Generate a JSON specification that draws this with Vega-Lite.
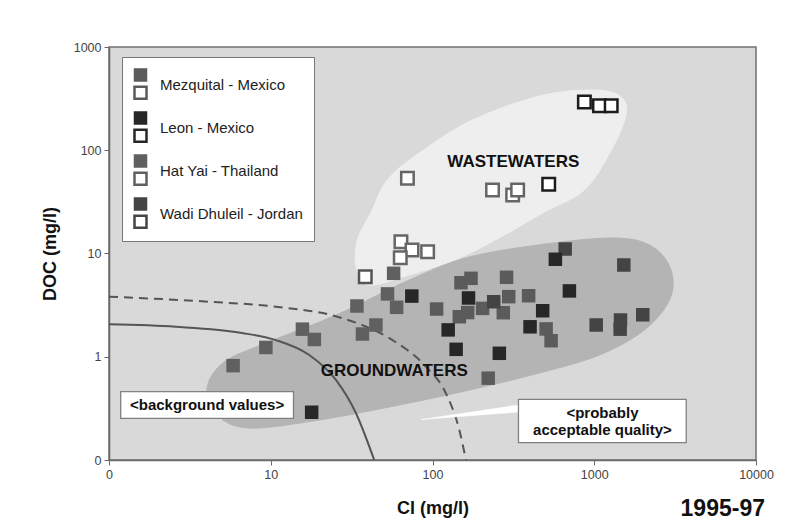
{
  "$schema": "https://vega.github.io/schema/vega-lite/v6.json",
  "width": 647,
  "height": 413,
  "autosize": {"type": "none"},
  "padding": {"left": 109, "top": 47, "right": 49, "bottom": 63},
  "background": "white",
  "title": {"text": "1995-97", "orient": "bottom", "anchor": "end", "frame": "group", "offset": 0, "dy": -20, "dx": 9, "font": "Liberation Sans", "fontSize": 23, "fontWeight": "bold", "color": "#111"},
  "datasets": {
    "ww": [
      {"cl": 458, "doc": 335}, {"cl": 934, "doc": 383}, {"cl": 1413, "doc": 343}, {"cl": 1581, "doc": 229.6},
      {"cl": 1277, "doc": 100.6}, {"cl": 869, "doc": 41.2}, {"cl": 492, "doc": 25.2}, {"cl": 278, "doc": 15.1},
      {"cl": 146.5, "doc": 9.04}, {"cl": 71.8, "doc": 6.19}, {"cl": 40.6, "doc": 4.95}, {"cl": 33.8, "doc": 7.24},
      {"cl": 34.3, "doc": 13.5}, {"cl": 41.8, "doc": 25.2}, {"cl": 52.5, "doc": 51.5}, {"cl": 82.8, "doc": 94.0},
      {"cl": 176, "doc": 196}
    ],
    "gw": [
      {"cl": 4.04, "doc": 0.498}, {"cl": 5.15, "doc": 0.89}, {"cl": 9.37, "doc": 1.36}, {"cl": 25.4, "doc": 2.54},
      {"cl": 71.8, "doc": 5.53}, {"cl": 169, "doc": 9.25}, {"cl": 551, "doc": 12.6}, {"cl": 1432, "doc": 14.1},
      {"cl": 2358, "doc": 11.3}, {"cl": 3006, "doc": 6.62}, {"cl": 2919, "doc": 3.55}, {"cl": 2045, "doc": 1.82},
      {"cl": 1077, "doc": 1.04}, {"cl": 458, "doc": 0.696}, {"cl": 169, "doc": 0.476}, {"cl": 62.3, "doc": 0.341},
      {"cl": 19.9, "doc": 0.244}, {"cl": 7.35, "doc": 0.204}, {"cl": 4.66, "doc": 0.273}
    ],
    "solid": [
      {"cl": 1, "doc": 2.06}, {"cl": 2.59, "doc": 1.95}, {"cl": 6.65, "doc": 1.70}, {"cl": 10.75, "doc": 1.45},
      {"cl": 17.3, "doc": 1.04}, {"cl": 25.3, "doc": 0.596}, {"cl": 33.6, "doc": 0.285}, {"cl": 43.6, "doc": 0.1}
    ],
    "dashed": [
      {"cl": 1, "doc": 3.82}, {"cl": 4.16, "doc": 3.41}, {"cl": 10.75, "doc": 3.05}, {"cl": 27.8, "doc": 2.36},
      {"cl": 56.6, "doc": 1.45}, {"cl": 91.2, "doc": 0.80}, {"cl": 121, "doc": 0.443}, {"cl": 146.5, "doc": 0.195},
      {"cl": 161, "doc": 0.1}
    ],
    "wedge": [
      {"cl": 85.2, "doc": 0.2467}, {"cl": 340, "doc": 0.341}, {"cl": 340, "doc": 0.2917}
    ],
    "boxes": [
      {"cl": 1.181, "cl2": 13.82, "doc": 0.4586, "doc2": 0.2534},
      {"cl": 340, "cl2": 3704, "doc": 0.387, "doc2": 0.147}
    ],
    "boxText": [
      {"cl": 4.04, "doc": 0.341, "text": "<background values>"},
      {"cl": 1124, "doc": 0.285, "text": "<probably\nacceptable quality>"}
    ],
    "bigText": [
      {"cl": 316, "doc": 77.5, "text": "WASTEWATERS"},
      {"cl": 58, "doc": 0.733, "text": "GROUNDWATERS"}
    ],
    "wwPts": [
      {"site": "Mezquital - Mexico", "cl": 70, "doc": 53.5},
      {"site": "Mezquital - Mexico", "cl": 235, "doc": 41.2},
      {"site": "Mezquital - Mexico", "cl": 313, "doc": 36.9},
      {"site": "Mezquital - Mexico", "cl": 336, "doc": 41.2},
      {"site": "Mezquital - Mexico", "cl": 63.8, "doc": 13.0},
      {"site": "Mezquital - Mexico", "cl": 74.7, "doc": 10.8},
      {"site": "Mezquital - Mexico", "cl": 93.3, "doc": 10.4},
      {"site": "Mezquital - Mexico", "cl": 63.2, "doc": 9.1},
      {"site": "Hat Yai - Thailand", "cl": 38.4, "doc": 5.96},
      {"site": "Leon - Mexico", "cl": 869, "doc": 293},
      {"site": "Leon - Mexico", "cl": 1077, "doc": 270},
      {"site": "Leon - Mexico", "cl": 1273, "doc": 270},
      {"site": "Leon - Mexico", "cl": 523, "doc": 46.8}
    ],
    "gwPts": [
      {"site": "Hat Yai - Thailand", "cl": 5.85, "doc": 0.82},
      {"site": "Hat Yai - Thailand", "cl": 9.33, "doc": 1.23},
      {"site": "Hat Yai - Thailand", "cl": 15.7, "doc": 1.85},
      {"site": "Hat Yai - Thailand", "cl": 18.6, "doc": 1.47},
      {"site": "Hat Yai - Thailand", "cl": 34.1, "doc": 3.10},
      {"site": "Hat Yai - Thailand", "cl": 36.9, "doc": 1.66},
      {"site": "Hat Yai - Thailand", "cl": 44.7, "doc": 2.03},
      {"site": "Hat Yai - Thailand", "cl": 52.7, "doc": 4.06},
      {"site": "Hat Yai - Thailand", "cl": 60.0, "doc": 3.01},
      {"site": "Hat Yai - Thailand", "cl": 57.5, "doc": 6.43},
      {"site": "Mezquital - Mexico", "cl": 106, "doc": 2.90},
      {"site": "Mezquital - Mexico", "cl": 146.5, "doc": 2.44},
      {"site": "Mezquital - Mexico", "cl": 165, "doc": 2.68},
      {"site": "Mezquital - Mexico", "cl": 150, "doc": 5.21},
      {"site": "Mezquital - Mexico", "cl": 173, "doc": 5.75},
      {"site": "Mezquital - Mexico", "cl": 287, "doc": 5.88},
      {"site": "Mezquital - Mexico", "cl": 296, "doc": 3.82},
      {"site": "Mezquital - Mexico", "cl": 204, "doc": 2.94},
      {"site": "Mezquital - Mexico", "cl": 274, "doc": 2.67},
      {"site": "Mezquital - Mexico", "cl": 393, "doc": 3.90},
      {"site": "Mezquital - Mexico", "cl": 504, "doc": 1.86},
      {"site": "Mezquital - Mexico", "cl": 541, "doc": 1.43},
      {"site": "Mezquital - Mexico", "cl": 221, "doc": 0.62},
      {"site": "Wadi Dhuleil - Jordan", "cl": 661, "doc": 11.06},
      {"site": "Wadi Dhuleil - Jordan", "cl": 1028, "doc": 2.03},
      {"site": "Wadi Dhuleil - Jordan", "cl": 1523, "doc": 7.74},
      {"site": "Wadi Dhuleil - Jordan", "cl": 1995, "doc": 2.55},
      {"site": "Wadi Dhuleil - Jordan", "cl": 1453, "doc": 2.27},
      {"site": "Wadi Dhuleil - Jordan", "cl": 1446, "doc": 1.85},
      {"site": "Wadi Dhuleil - Jordan", "cl": 239, "doc": 3.41},
      {"site": "Leon - Mexico", "cl": 17.9, "doc": 0.29},
      {"site": "Leon - Mexico", "cl": 74.5, "doc": 3.87},
      {"site": "Leon - Mexico", "cl": 125, "doc": 1.82},
      {"site": "Leon - Mexico", "cl": 140, "doc": 1.18},
      {"site": "Leon - Mexico", "cl": 167, "doc": 3.71},
      {"site": "Leon - Mexico", "cl": 480, "doc": 2.79},
      {"site": "Leon - Mexico", "cl": 401, "doc": 1.95},
      {"site": "Leon - Mexico", "cl": 259, "doc": 1.08},
      {"site": "Leon - Mexico", "cl": 575, "doc": 8.79},
      {"site": "Leon - Mexico", "cl": 702, "doc": 4.34}
    ]
  },
  "encoding": {
    "x": {
      "field": "cl", "type": "quantitative",
      "scale": {"type": "log", "domain": [1, 10000], "nice": false},
      "axis": {"title": "Cl (mg/l)", "values": [1, 10, 100, 1000, 10000], "labelExpr": "datum.value < 2 ? '0' : format(datum.value, 'd')", "grid": false, "labelFlush": false, "titlePadding": 19}
    },
    "y": {
      "field": "doc", "type": "quantitative",
      "scale": {"type": "log", "domain": [0.1, 1000], "nice": false},
      "axis": {"title": "DOC (mg/l)", "values": [0.1, 1, 10, 100, 1000], "labelExpr": "datum.value < 0.5 ? '0' : format(datum.value, 'd')", "grid": false, "labelFlush": false, "titlePadding": 14}
    }
  },
  "layer": [
    {"data": {"name": "ww"}, "mark": {"type": "line", "interpolate": "cardinal-closed", "fill": "#eeeeee", "stroke": "#eeeeee", "strokeWidth": 1}, "encoding": {"order": {"value": null}}},
    {"data": {"name": "gw"}, "mark": {"type": "line", "interpolate": "cardinal-closed", "fill": "#b4b4b4", "stroke": "#b4b4b4", "strokeWidth": 1}, "encoding": {"order": {"value": null}}},
    {"data": {"name": "solid"}, "mark": {"type": "line", "interpolate": "monotone", "color": "#555555", "strokeWidth": 2}, "encoding": {}},
    {"data": {"name": "dashed"}, "mark": {"type": "line", "interpolate": "monotone", "color": "#555555", "strokeWidth": 2, "strokeDash": [9, 6]}, "encoding": {}},
    {"data": {"name": "wedge"}, "mark": {"type": "line", "interpolate": "linear-closed", "fill": "white", "stroke": "white", "strokeWidth": 0.5}, "encoding": {"order": {"value": null}}},
    {"data": {"name": "boxes"}, "mark": {"type": "rect", "fill": "white", "stroke": "#808080", "strokeWidth": 1.3}, "encoding": {"x2": {"field": "cl2"}, "y2": {"field": "doc2"}}},
    {"data": {"name": "boxText"}, "mark": {"type": "text", "font": "Liberation Sans", "fontSize": 15, "fontWeight": "bold", "color": "#111111", "lineBreak": "\n", "lineHeight": 17, "align": "center", "baseline": "middle"}, "encoding": {"text": {"field": "text"}}},
    {"data": {"name": "wwPts"}, "mark": {"type": "square", "size": 156, "fill": "white", "strokeWidth": 2.5, "opacity": 1}, "encoding": {"stroke": {"field": "site", "type": "nominal", "scale": {"domain": ["Leon - Mexico", "Mezquital - Mexico", "Hat Yai - Thailand"], "range": ["#1c1c1c", "#666666", "#555555"]}, "legend": null}}},
    {"data": {"name": "gwPts"}, "mark": {"type": "square", "size": 182, "filled": true, "opacity": 1}, "encoding": {"color": {"field": "site", "type": "nominal", "scale": {"domain": ["Mezquital - Mexico", "Leon - Mexico", "Hat Yai - Thailand", "Wadi Dhuleil - Jordan"], "range": ["#5b5b5b", "#272727", "#606060", "#444444"]},
      "legend": {"title": " ", "titleFontSize": 2, "titlePadding": 7, "orient": "none", "legendX": 13, "legendY": 10, "padding": 11, "fillColor": "white", "strokeColor": "#777777", "symbolType": "M-1.04,-2.49H1.04V-0.41H-1.04Z M-1.115,0.162H1.115V2.392H-1.115Z M-0.731,0.546V2.008H0.731V0.546Z", "symbolSize": 169, "symbolStrokeWidth": 0, "symbolOpacity": 1, "labelFont": "Liberation Sans", "labelFontSize": 15, "labelColor": "#222222", "labelOffset": 12, "rowPadding": 10}}}},
    {"data": {"name": "bigText"}, "mark": {"type": "text", "font": "Liberation Sans", "fontSize": 17, "fontWeight": "bold", "color": "#111111", "align": "center", "baseline": "middle"}, "encoding": {"text": {"field": "text"}}}
  ],
  "config": {
    "font": "Liberation Sans",
    "view": {"fill": "#d9d9d9", "stroke": "#707070", "strokeWidth": 1.5},
    "axis": {"domainColor": "#6a6a6a", "domainWidth": 1.5, "tickColor": "#6a6a6a", "tickSize": 5, "labelColor": "#444444", "labelFontSize": 12.5, "labelFont": "Liberation Sans", "labelPadding": 3, "titleFont": "Liberation Sans", "titleFontSize": 18, "titleFontWeight": "bold", "titleColor": "#111111"}
  }
}
